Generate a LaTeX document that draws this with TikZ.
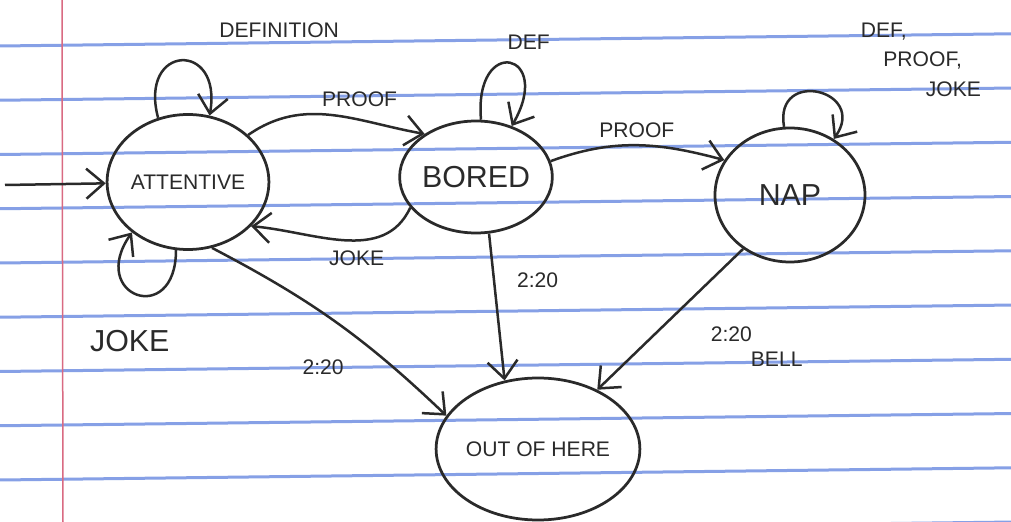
\documentclass[tikz,border=0pt]{standalone}
\usepackage{fontspec}
\setmainfont{Liberation Sans}
\usetikzlibrary{arrows.meta,positioning,shapes.geometric}
\definecolor{PaperBlue}{HTML}{86A0E6}
\definecolor{PaperRed}{HTML}{D96A82}
\definecolor{PenInk}{HTML}{2A2A2A}

\begin{document}
\begin{tikzpicture}[x=0.2mm, y=0.2mm,
    state/.style={ellipse, draw=PenInk, line width=0.55mm, inner sep=0pt,
      font=\large, text=PenInk},
    trans/.style={draw=PenInk, line width=0.5mm,
      -{Straight Barb[length=3.5mm, width=6mm]}},
    lbl/.style={font=\large, text=PenInk, inner sep=1pt}
  ]
  % ruled paper
  \fill[white] (0,0) rectangle (1011,-522);
  \useasboundingbox (0,0) rectangle (1011,-522);
  \begin{scope}
    \clip (0,0) rectangle (1011,-522);
    \foreach \k in {0,...,9}
      \draw[PaperBlue, line width=0.6mm] (0,{-46-54.25*\k}) -- (1011,{-33.8-54.25*\k});
    \draw[PaperRed, line width=0.3mm] (62,0) -- (63,-522);
  \end{scope}

  % states
  \node[state, minimum width=28mm, minimum height=27mm] (att) at (188,-182) {ATTENTIVE};
  \node[state, minimum width=29.6mm, minimum height=22.4mm, font=\LARGE] (bored) at (476,-177) {BORED};
  \node[state, minimum width=30mm, minimum height=26.8mm, font=\LARGE] (nap) at (790,-195) {NAP};
  \node[state, minimum width=40mm, minimum height=28.4mm] (out) at (538,-449) {OUT OF HERE};

  % start arrow
  \coordinate (start) at (5,-185);
  \draw[trans] (start) -- (att);

  % self loops
  \draw[trans] (att.115) to[out=105, in=80, looseness=3.8]
    node[lbl, pos=0.5, anchor=south west, xshift=7mm, yshift=4mm] (defn) {DEFINITION} (att.72);
  \draw[trans] (att.260) to[out=270, in=235, looseness=4.2]
    node[lbl, pos=0.5, below=6.5mm, xshift=-1.5mm, font=\LARGE] (joke1) {JOKE} (att.222);
  \draw[trans] (bored.85) to[out=95, in=60, looseness=7]
    node[lbl, pos=0.5, anchor=south west, yshift=2mm, xshift=-1mm] (def1) {DEF} (bored.55);
  \draw[trans] (nap.95) to[out=100, in=55, looseness=3]
    node[lbl, pos=0.5, anchor=west, xshift=8mm, yshift=6.5mm, align=left] (def2)
    {DEF,\\[1mm]\hspace*{4.5mm}PROOF,\\[1mm]\hspace*{13mm}JOKE} (nap.52);

  % transitions
  \draw[trans] (att.38) to[out=35, in=170]
    node[lbl, pos=0.5, above=1mm, xshift=5.5mm] (proof1) {PROOF} (bored.140);
  \draw[trans] (bored.205) to[out=245, in=-5]
    node[lbl, pos=0.5, below=1.5mm, xshift=2.5mm] (joke2) {JOKE} (att.325);
  \draw[trans] (bored.12) to[out=20, in=165]
    node[lbl, pos=0.5, above=1mm] (proof2) {PROOF} (nap.152);
  \draw[trans] (att.290) to[bend left=8]
    node[lbl, pos=0.62, anchor=north east, yshift=-3mm, xshift=-3mm] (t1) {2:20} (out.160);
  \draw[trans] (bored.283) --
    node[lbl, pos=0.32, right=4mm] (t2) {2:20} (out.116);
  \draw[trans] (nap.229) --
    node[lbl, pos=0.55, anchor=north west, xshift=9mm, yshift=0.5mm, align=left] (t3)
    {2:20\\\hspace*{8mm}BELL} (out.45);
\end{tikzpicture}
\end{document}
